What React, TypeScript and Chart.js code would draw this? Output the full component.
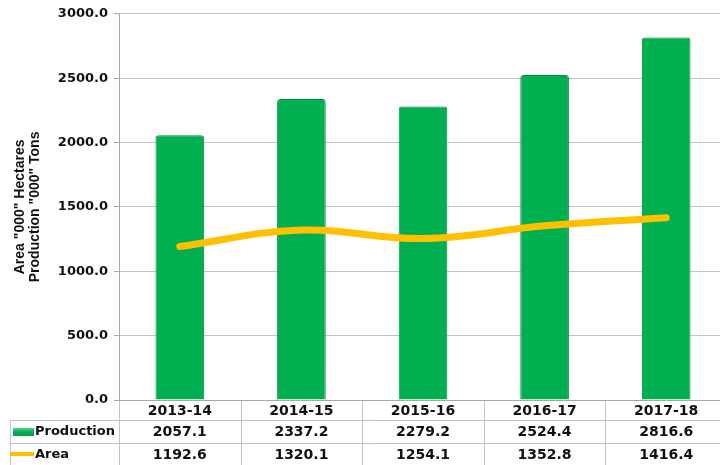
import React, { useEffect, useRef } from "react";
import { Chart, registerables } from "chart.js";
Chart.register(...registerables);

const categories = ["2013-14", "2014-15", "2015-16", "2016-17", "2017-18"];
const production = [2057.1, 2337.2, 2279.2, 2524.4, 2816.6];
const area = [1192.6, 1320.1, 1254.1, 1352.8, 1416.4];
const yMin = 0;
const yMax = 3000;
const yStep = 500;
const yTitle = ['Area "000" Hectares', 'Production "000" Tons'];
const seriesNames = ["Production", "Area"];

const GREEN = "#00b050";
const GREEN_EDGE = "#00913f";
const ORANGE = "#ffc000";
const GRID = "#c4c4c4";
const AXIS = "#a8a8a8";

const tablePlugin = {
  id: "dataTable",
  afterDraw(chart: any) {
    const { ctx, chartArea } = chart;
    const xs = chart.scales.x;
    const n = chart.data.labels.length;
    const catW = (xs.getPixelForValue(1) - xs.getPixelForValue(0));
    const bottom = chartArea.bottom;
    const h = chart.height;
    const row1 = bottom + 20;
    const row2 = bottom + 43;
    ctx.save();
    ctx.strokeStyle = GRID;
    ctx.lineWidth = 1;
    // column separators
    for (let i = 0; i <= n; i++) {
      const x = Math.round(xs.getPixelForValue(0) - catW / 2 + i * catW) + 0.5;
      ctx.beginPath();
      ctx.moveTo(x, bottom);
      ctx.lineTo(x, h);
      ctx.stroke();
    }
    // row lines
    [row1, row2].forEach((y) => {
      ctx.beginPath();
      ctx.moveTo(10, Math.round(y) + 0.5);
      ctx.lineTo(chart.width, Math.round(y) + 0.5);
      ctx.stroke();
    });
    ctx.beginPath();
    ctx.moveTo(10.5, row1);
    ctx.lineTo(10.5, h);
    ctx.stroke();

    // axis line on top of separators
    ctx.strokeStyle = AXIS;
    ctx.beginPath();
    ctx.moveTo(chartArea.left - 5, Math.round(bottom) + 0.5);
    ctx.lineTo(chart.width, Math.round(bottom) + 0.5);
    ctx.stroke();

    // texts
    ctx.fillStyle = "#111";
    ctx.textBaseline = "middle";
    ctx.textAlign = "center";
    ctx.font = "bold 14px 'DejaVu Sans'";
    const ds = chart.data.datasets;
    for (let i = 0; i < n; i++) {
      const x = xs.getPixelForValue(i);
      ctx.fillText(chart.data.labels[i], x, bottom + 11);
      ctx.fillText(ds[0].data[i].toFixed(1), x, row1 + 12);
      ctx.fillText(ds[1].data[i].toFixed(1), x, row2 + 12);
    }
    // legend keys
    const g = ctx.createLinearGradient(0, row1 + 8, 0, row1 + 16);
    g.addColorStop(0, "#4fd488");
    g.addColorStop(0.5, GREEN);
    g.addColorStop(1, "#0a9a47");
    ctx.fillStyle = g;
    ctx.fillRect(13, row1 + 8, 21, 8);
    ctx.strokeStyle = ORANGE;
    ctx.lineWidth = 4;
    ctx.beginPath();
    ctx.moveTo(10, row2 + 11);
    ctx.lineTo(34, row2 + 11);
    ctx.stroke();
    ctx.fillStyle = "#111";
    ctx.textAlign = "left";
    ctx.font = "bold 13px 'DejaVu Sans'";
    ctx.fillText(seriesNames[0], 35, row1 + 12);
    ctx.fillText(seriesNames[1], 35, row2 + 12);
    ctx.restore();
  },
};

export default function App() {
  const ref = useRef<HTMLCanvasElement>(null);
  useEffect(() => {
    document.body.style.margin = "0";
    const c = new Chart(ref.current!, {
      type: "bar",
      data: {
        labels: categories,
        datasets: [
          {
            type: "bar",
            label: seriesNames[0],
            data: production,
            backgroundColor: GREEN,
            borderColor: GREEN_EDGE,
            borderWidth: 1,
            borderRadius: { topLeft: 3, topRight: 3 },
            borderSkipped: "bottom",
            barPercentage: 0.4,
            categoryPercentage: 1,
            order: 1,
          } as any,
          {
            type: "line",
            label: seriesNames[1],
            data: area,
            borderColor: ORANGE,
            borderWidth: 7,
            tension: 0.4,
            pointRadius: 0,
            borderCapStyle: "round",
            fill: false,
            order: 0,
          } as any,
        ],
      },
      options: {
        responsive: false,
        animation: false,
        layout: { padding: { top: 11, bottom: 65, left: 0, right: 0 } },
        plugins: { legend: { display: false }, tooltip: { enabled: false }, title: { display: false } },
        scales: {
          x: { display: false, offset: true, grid: { display: false } },
          y: {
            min: yMin,
            max: yMax,
            ticks: {
              stepSize: yStep,
              padding: 6,
              color: "#111",
              font: { family: "'DejaVu Sans'", size: 13, weight: "bold" },
              callback: (v: any) => Number(v).toFixed(1),
            },
            grid: { color: GRID, tickLength: 5, tickColor: AXIS },
            border: { color: AXIS },
            title: {
              display: true,
              text: yTitle,
              color: "#111",
              padding: { top: 13, bottom: 0 },
              font: { family: "'Liberation Sans'", size: 14, weight: "bold", lineHeight: "15px" },
            },
            afterFit: (s: any) => {
              s.width = 119;
            },
          },
        },
      },
      plugins: [tablePlugin],
    });
    return () => c.destroy();
  }, []);
  return (
    <div style={{ width: 720, height: 465, overflow: "hidden", background: "#fff" }}>
      <canvas ref={ref} width={727} height={465} style={{ display: "block" }} />
    </div>
  );
}
